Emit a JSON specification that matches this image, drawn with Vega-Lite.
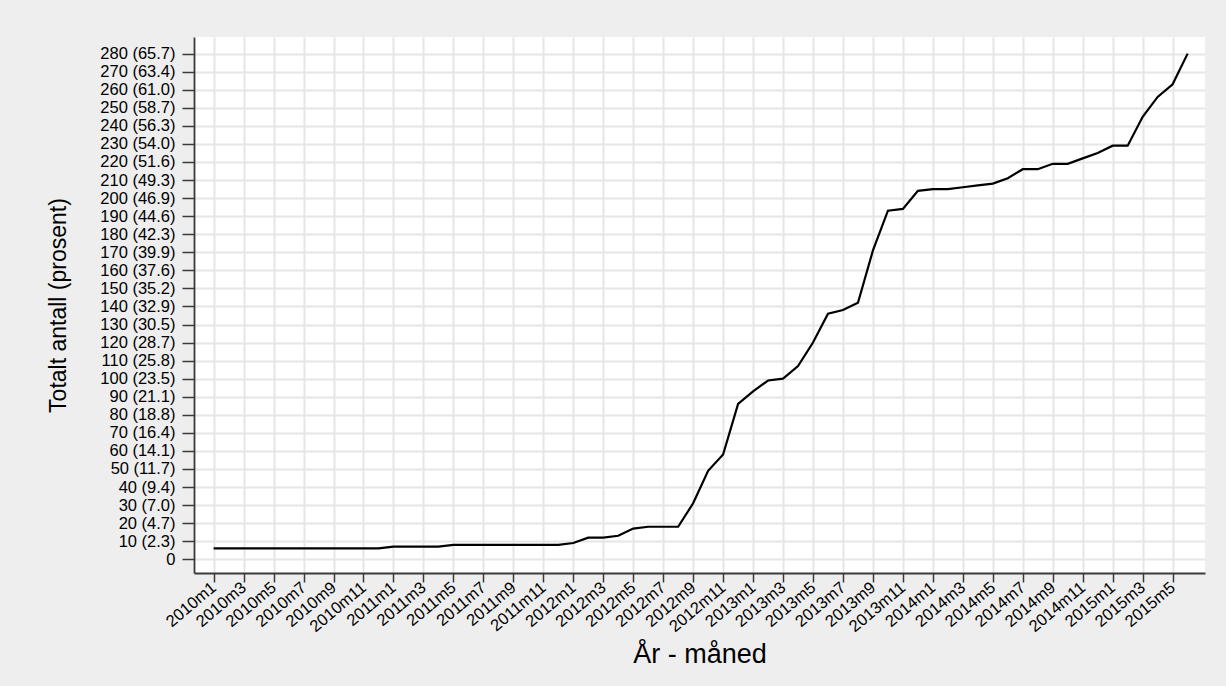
{
  "$schema": "https://vega.github.io/schema/vega-lite/v6.json",
  "width": 1011,
  "height": 536,
  "autosize": {"type": "none"},
  "padding": {"left": 194, "top": 37, "right": 21, "bottom": 113},
  "background": "#eeeeee",
  "config": {
    "view": {"fill": "white", "stroke": null},
    "font": "Liberation Sans",
    "axis": {
      "domainColor": "#3a3a3a",
      "domainWidth": 1.8,
      "tickColor": "#3a3a3a",
      "tickWidth": 1.5,
      "gridColor": "#e6e6e6",
      "gridWidth": 2,
      "labelFont": "Liberation Sans",
      "labelFontSize": 16.5,
      "labelColor": "#000000",
      "titleFont": "Liberation Sans",
      "titleFontWeight": "normal",
      "titleColor": "#000000"
    }
  },
  "data": {
    "values": [
      {"t": 0, "antall": 6}, {"t": 1, "antall": 6}, {"t": 2, "antall": 6}, {"t": 3, "antall": 6},
      {"t": 4, "antall": 6}, {"t": 5, "antall": 6}, {"t": 6, "antall": 6}, {"t": 7, "antall": 6},
      {"t": 8, "antall": 6}, {"t": 9, "antall": 6}, {"t": 10, "antall": 6}, {"t": 11, "antall": 6},
      {"t": 12, "antall": 7}, {"t": 13, "antall": 7}, {"t": 14, "antall": 7}, {"t": 15, "antall": 7},
      {"t": 16, "antall": 8}, {"t": 17, "antall": 8}, {"t": 18, "antall": 8}, {"t": 19, "antall": 8},
      {"t": 20, "antall": 8}, {"t": 21, "antall": 8}, {"t": 22, "antall": 8}, {"t": 23, "antall": 8},
      {"t": 24, "antall": 9}, {"t": 25, "antall": 12}, {"t": 26, "antall": 12}, {"t": 27, "antall": 13},
      {"t": 28, "antall": 17}, {"t": 29, "antall": 18}, {"t": 30, "antall": 18}, {"t": 31, "antall": 18},
      {"t": 32, "antall": 31}, {"t": 33, "antall": 49}, {"t": 34, "antall": 58}, {"t": 35, "antall": 86},
      {"t": 36, "antall": 93}, {"t": 37, "antall": 99}, {"t": 38, "antall": 100}, {"t": 39, "antall": 107},
      {"t": 40, "antall": 120}, {"t": 41, "antall": 136}, {"t": 42, "antall": 138}, {"t": 43, "antall": 142},
      {"t": 44, "antall": 171}, {"t": 45, "antall": 193}, {"t": 46, "antall": 194}, {"t": 47, "antall": 204},
      {"t": 48, "antall": 205}, {"t": 49, "antall": 205}, {"t": 50, "antall": 206}, {"t": 51, "antall": 207},
      {"t": 52, "antall": 208}, {"t": 53, "antall": 211}, {"t": 54, "antall": 216}, {"t": 55, "antall": 216},
      {"t": 56, "antall": 219}, {"t": 57, "antall": 219}, {"t": 58, "antall": 222}, {"t": 59, "antall": 225},
      {"t": 60, "antall": 229}, {"t": 61, "antall": 229}, {"t": 62, "antall": 245}, {"t": 63, "antall": 256},
      {"t": 64, "antall": 263}, {"t": 65, "antall": 280}
    ]
  },
  "mark": {"type": "line", "color": "#000000", "strokeWidth": 2.2},
  "encoding": {
    "x": {
      "field": "t",
      "type": "quantitative",
      "scale": {"domain": [-1.31, 66.16], "nice": false, "zero": false},
      "axis": {
        "values": [0, 2, 4, 6, 8, 10, 12, 14, 16, 18, 20, 22, 24, 26, 28, 30, 32, 34, 36, 38, 40, 42, 44, 46, 48, 50, 52, 54, 56, 58, 60, 62, 64],
        "labelExpr": "(2010 + floor(datum.value / 12)) + 'm' + (datum.value % 12 + 1)",
        "labelAngle": -40,
        "labelAlign": "right",
        "labelBaseline": "middle",
        "labelPadding": 3,
        "labelOverlap": false,
        "tickSize": 9,
        "title": "År - måned",
        "titleFontSize": 27,
        "titlePadding": 7
      }
    },
    "y": {
      "field": "antall",
      "type": "quantitative",
      "scale": {"domain": [-7.6, 289.2], "nice": false, "zero": false},
      "axis": {
        "values": [0, 10, 20, 30, 40, 50, 60, 70, 80, 90, 100, 110, 120, 130, 140, 150, 160, 170, 180, 190, 200, 210, 220, 230, 240, 250, 260, 270, 280],
        "labelExpr": "['0','10 (2.3)','20 (4.7)','30 (7.0)','40 (9.4)','50 (11.7)','60 (14.1)','70 (16.4)','80 (18.8)','90 (21.1)','100 (23.5)','110 (25.8)','120 (28.7)','130 (30.5)','140 (32.9)','150 (35.2)','160 (37.6)','170 (39.9)','180 (42.3)','190 (44.6)','200 (46.9)','210 (49.3)','220 (51.6)','230 (54.0)','240 (56.3)','250 (58.7)','260 (61.0)','270 (63.4)','280 (65.7)'][round(datum.value / 10)]",
        "labelPadding": 7,
        "labelOverlap": false,
        "tickSize": 12,
        "title": "Totalt antall (prosent)",
        "titleFontSize": 23,
        "titlePadding": 29
      }
    }
  }
}
